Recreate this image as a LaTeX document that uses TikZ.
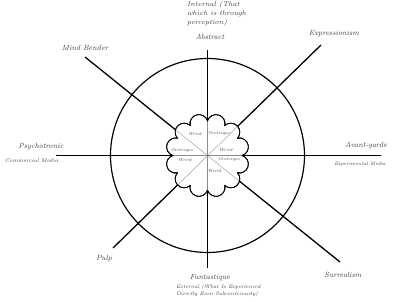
\documentclass[tikz,border=0pt]{standalone}
\usepackage{fontspec}
\usetikzlibrary{calc}
\definecolor{txt}{RGB}{62,62,74}
\tikzset{
  axis/.style={line width=1.3pt, black},
  ring/.style={line width=1.2pt, black},
  flower/.style={line width=0.8pt, black, fill=white},
  inner/.style={line width=0.35pt, black!45},
  lbl/.style={font=\itshape\fontsize{7.5}{9}\selectfont, text=txt, inner sep=0pt},
  smalllbl/.style={font=\itshape\fontsize{5.5}{7}\selectfont, text=txt, inner sep=0pt},
  tinylbl/.style={font=\itshape\fontsize{4.3}{5}\selectfont, text=txt, inner sep=0pt},
}
\newcommand{\flowerpath}{(0:34.7) foreach \k in {0,...,11}{ arc[start angle={15+30*\k-86.7}, end angle={15+30*\k+86.7}, radius=9] } -- cycle}
\begin{document}
\begin{tikzpicture}[x=1pt,y=-1pt]
\useasboundingbox[fill=white] (0,0) rectangle (400,302);
\coordinate (c) at (207.5,155.5);
\coordinate (h1) at (56,155.5);  \coordinate (h2) at (381,155.5);
\coordinate (v1) at (207.5,50);  \coordinate (v2) at (207.5,268);
\coordinate (nw) at (85,57);     \coordinate (se) at (340,262);
\coordinate (ne) at (321,45);    \coordinate (sw) at (113,248);
% spokes
\draw[axis] (h1) -- (h2);
\draw[axis] (v1) -- (v2);
\draw[axis] (nw) -- (se);
\draw[axis] (ne) -- (sw);
% ring
\draw[ring] (c) circle[radius=97];
% flower
\draw[flower, shift={(c)}] \flowerpath;
% inner thin lines
\begin{scope}
  \clip[shift={(c)}] \flowerpath;
  \draw[inner] (h1) -- (h2);
  \draw[inner] (v1) -- (v2);
  \draw[inner] (nw) -- (se);
  \draw[inner] (ne) -- (sw);
\end{scope}
\draw[line width=0.8pt, shift={(c)}] \flowerpath;
% flower labels
\node[tinylbl] (w1) at (195,134) {Weird};
\node[tinylbl] (g1) at (219,133.5) {Grotesque};
\node[tinylbl] (g2) at (182,150.5) {Grotesque};
\node[tinylbl] (w2) at (226,150.5) {Weird};
\node[tinylbl] (w3) at (185,160) {Weird};
\node[tinylbl] (g3) at (229,159.5) {Grotesque};
\node[tinylbl] (w4) at (214.5,171.5) {Weird};
% outer labels
\node[anchor=north west, align=left, font=\itshape\fontsize{7}{8.6}\selectfont, text=txt, inner sep=0pt] (internal) at (187,1.5) {Internal (That\\which is through\\perception)};
\node[lbl] (abstract) at (210,37) {Abstract};
\node[lbl] (mind) at (85,47.5) {Mind Bender};
\node[lbl] (expr) at (334,34) {Expressionism};
\node[lbl] (psy) at (41,147) {Psychotronic};
\node[smalllbl] (comm) at (31.5,161) {Commercial Media};
\node[lbl] (avant) at (366,146) {Avant-garde};
\node[font=\itshape\fontsize{5}{6}\selectfont, text=txt, inner sep=0pt] (exper) at (360,164) {Experimental Media};
\node[lbl] (pulp) at (104,259) {Pulp};
\node[lbl] (fant) at (210,278) {Fantastique};
\node[lbl] (surr) at (343,275) {Surrealism};
\node[anchor=north west, align=left, font=\itshape\fontsize{5.3}{7}\selectfont, text=txt, inner sep=0pt] (external) at (176,284.5) {External (What Is Experienced\\Directly Even Subconsciously)};
\end{tikzpicture}
\end{document}
